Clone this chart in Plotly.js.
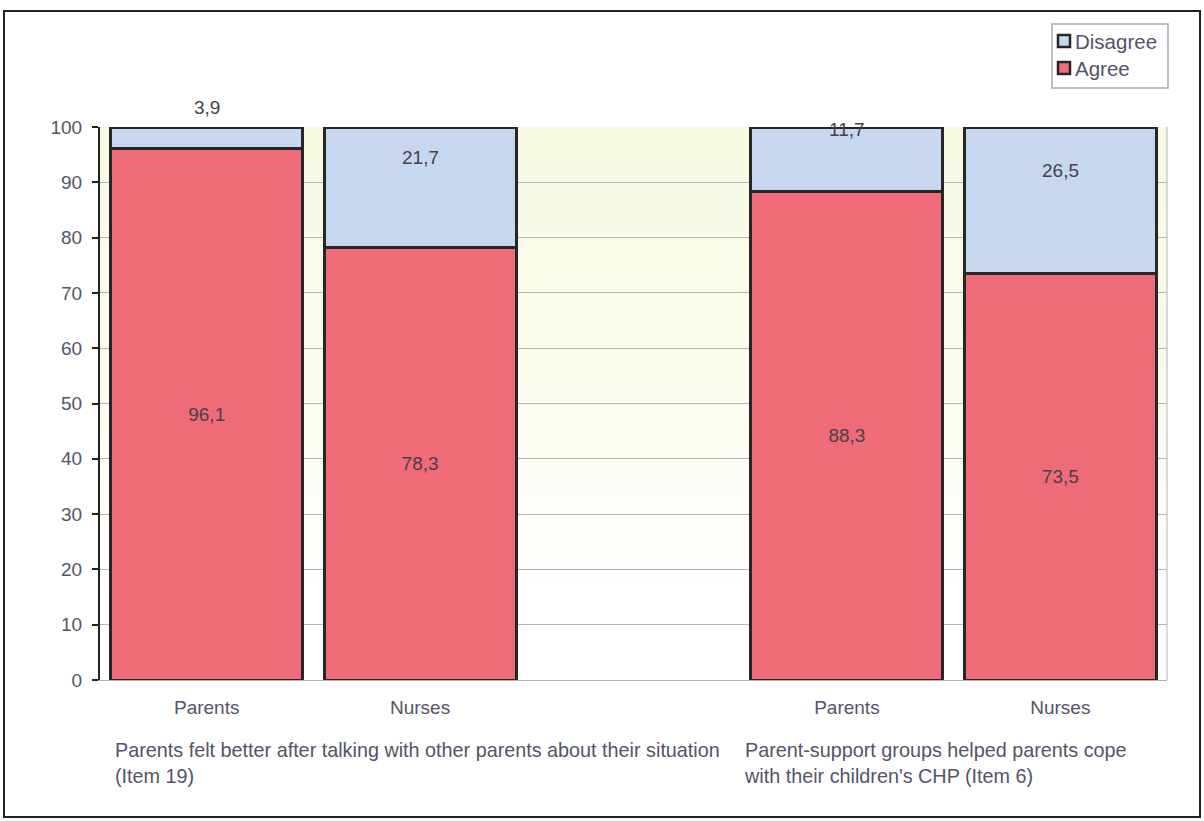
<!DOCTYPE html>
<html>
<head>
<meta charset="utf-8">
<script src="https://cdn.plot.ly/plotly-3.0.1.min.js"></script>
<style>
  html, body { margin:0; padding:0; background:#ffffff; }
  #wrap { position:relative; width:1204px; height:821px; overflow:hidden; }
  #bg { position:absolute; left:100px; top:127px; width:1067px; height:553px;
        background: linear-gradient(to bottom, #f8f9e2 0%, #fbfcee 45%, #ffffff 85%); }
  #chart { position:absolute; left:0; top:0; width:1204px; height:821px; }
  #frame { position:absolute; left:3px; top:10px; width:1194px; height:804px;
           border:2px solid #222; pointer-events:none; }
</style>
</head>
<body>
<div id="wrap">
  <div id="bg"></div>
  <div id="chart"></div>
  <div id="frame"></div>
</div>
<script>
// ---- data ----
const slots = [0, 1, 3, 4];
const tickLabels = ["Parents", "Nurses", "", "Parents", "Nurses"];
const agree = [96.1, 78.3, 88.3, 73.5];
const disagree = [3.9, 21.7, 11.7, 26.5];
const seriesNames = ["Disagree", "Agree"];
const groupTitles = [
  "Parents felt better after talking with other parents about their situation<br>(Item 19)",
  "Parent-support groups helped parents cope<br>with their children's CHP (Item 6)"
];

const fmt = v => v.toFixed(1).replace('.', ',');
const FONT = "Liberation Sans, Arial, sans-serif";
const TXT = "#545468";
const LBL = "#4a3e4a";
const RED = "#ef6b78", BLUE = "#c6d7ef";
const outline = { color: "#262626", width: 3 };

// plot area in pixels (for converting legend placement to paper units)
const L = 100, R = 37, T = 127, B = 141, W = 1204, H = 821;
const PW = W - L - R, PH = H - T - B;
const px = x => (x - L) / PW;
const py = y => (H - B - y) / PH;

const traces = [
  {
    type: "bar", name: seriesNames[1], x: slots, y: agree,
    marker: { color: RED, line: outline },
    text: agree.map(fmt), textposition: "inside", insidetextanchor: "middle",
    textfont: { family: FONT, size: 19, color: LBL }, constraintext: "none",
    hoverinfo: "name+y"
  },
  {
    type: "bar", name: seriesNames[0], x: slots, y: disagree,
    marker: { color: BLUE, line: outline },
    textposition: "none", hoverinfo: "name+y"
  }
];

const annotations = disagree.map((d, i) => ({
  x: slots[i], y: agree[i] + d / 2, xref: "x", yref: "y",
  text: fmt(d), showarrow: false, yshift: 30,
  font: { family: FONT, size: 19, color: LBL }
}));
annotations.push({
  x: -0.5, y: 0, xref: "x", yref: "y", xanchor: "left", yanchor: "top", align: "left",
  xshift: 13, yshift: -57, text: groupTitles[0], showarrow: false,
  font: { family: FONT, size: 19.8, color: TXT }
});
annotations.push({
  x: 2.5, y: 0, xref: "x", yref: "y", xanchor: "left", yanchor: "top", align: "left",
  xshift: 2, yshift: -57, text: groupTitles[1], showarrow: false,
  font: { family: FONT, size: 19.8, color: TXT }
});

// manual legend (Disagree above Agree)
const legendColors = [BLUE, RED];
const legendRows = [41, 68];
const shapes = [
  { type: "rect", xref: "paper", yref: "paper", x0: px(1052), x1: px(1168), y0: py(88), y1: py(24),
    line: { color: "#a8a8b8", width: 1.5 }, fillcolor: "#ffffff", layer: "above" },
  { type: "line", xref: "paper", yref: "paper", x0: 1, x1: 1, y0: 0, y1: 1,
    line: { color: "#b4b4b4", width: 1 }, layer: "below" }
];
legendRows.forEach((yy, i) => {
  shapes.push({ type: "rect", xref: "paper", yref: "paper",
    x0: px(1058), x1: px(1070), y0: py(yy + 6), y1: py(yy - 6),
    line: { color: "#262626", width: 2.5 }, fillcolor: legendColors[i], layer: "above" });
  annotations.push({ xref: "paper", yref: "paper", x: px(1073), y: py(yy), xanchor: "left", yanchor: "middle",
    text: seriesNames[i], showarrow: false, font: { family: FONT, size: 20.5, color: TXT } });
});

const layout = {
  width: W, height: H,
  margin: { l: L, r: R, t: T, b: B, pad: 0 },
  paper_bgcolor: "rgba(0,0,0,0)", plot_bgcolor: "rgba(0,0,0,0)",
  barmode: "stack", bargap: 0.1,
  font: { family: FONT, size: 19, color: TXT },
  showlegend: false,
  xaxis: {
    range: [-0.5, 4.5], tickmode: "array", tickvals: [0, 1, 2, 3, 4], ticktext: tickLabels,
    showgrid: false, zeroline: false, showline: true, linecolor: "#b0b0b0", linewidth: 1,
    ticks: "", tickfont: { family: FONT, size: 19, color: TXT }, ticklabelstandoff: 10
  },
  yaxis: {
    range: [0, 100], dtick: 10, tick0: 0,
    showgrid: true, gridcolor: "#b4b4b4", gridwidth: 1,
    zeroline: false, showline: true, linecolor: "#222", linewidth: 2,
    ticks: "outside", ticklen: 6, tickwidth: 2, tickcolor: "#222", ticklabelstandoff: 6,
    tickfont: { family: FONT, size: 19, color: TXT }
  },
  shapes: shapes,
  annotations: annotations
};

Plotly.newPlot("chart", traces, layout, { displayModeBar: false, staticPlot: true });
</script>
</body>
</html>
